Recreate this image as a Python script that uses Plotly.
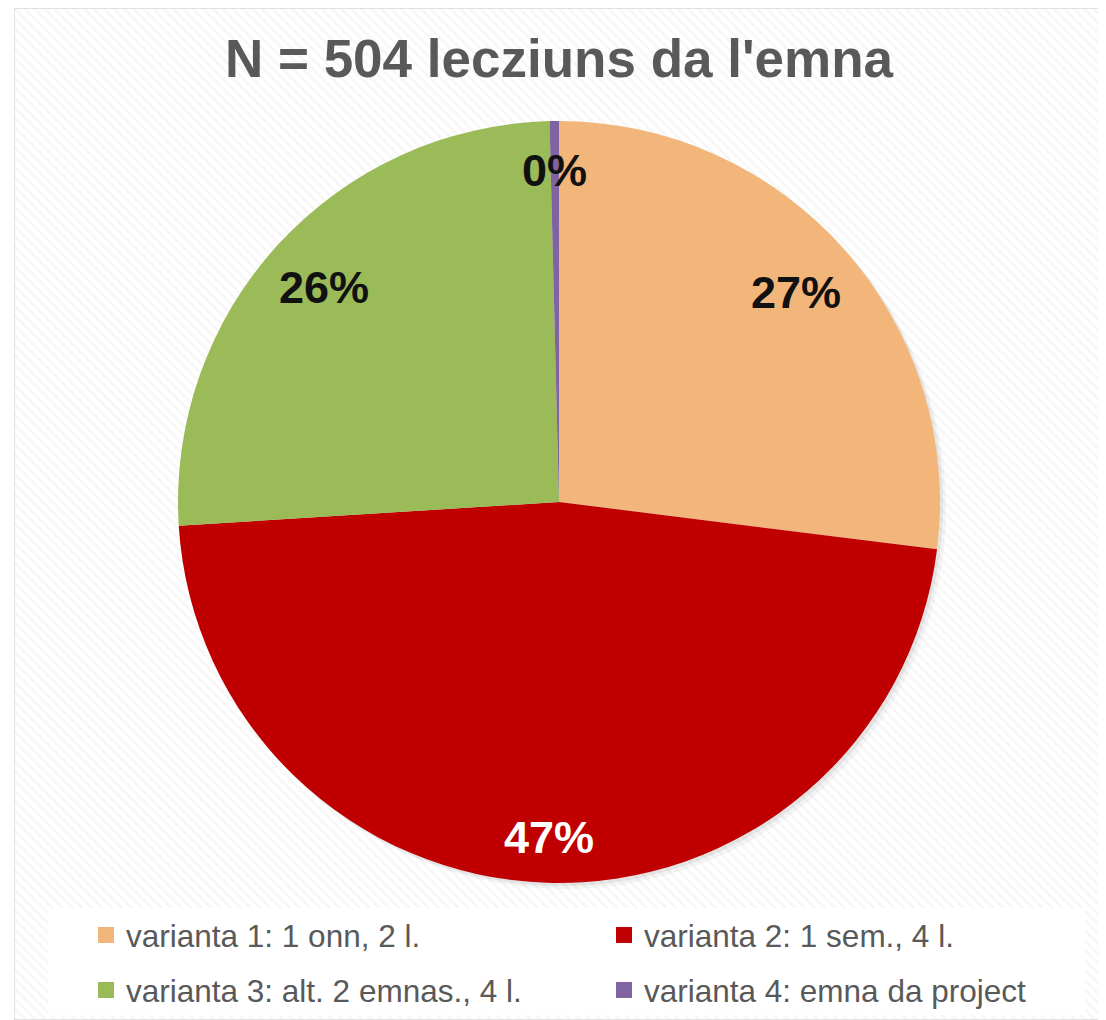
import math

import plotly.graph_objects as go

# Data
labels = [
    "varianta 1: 1 onn, 2 l.",
    "varianta 2: 1 sem., 4 l.",
    "varianta 3: alt. 2 emnas., 4 l.",
    "varianta 4: emna da project",
]
lessons = [136, 237, 129, 2]
colors = ["#F3B67A", "#C00000", "#9BBB59", "#8064A2"]
label_colors = ["#111111", "#FFFFFF", "#111111", "#111111"]
title = "N = 504 lecziuns da l'emna"

# the page body has an 8px margin, so the figure is sized to fit the window
W, H = 1098, 1012
FONT = "Liberation Sans, Arial, sans-serif"

# pie geometry (figure pixels)
cx, cy, r = 551, 494, 381
dom_x = [(cx - r) / W, (cx + r) / W]
dom_y = [1 - (cy + r) / H, 1 - (cy - r) / H]
label_radius = [0.83, 0.88, 0.835, 0.87]  # fraction of r where each % label sits

fig = go.Figure()

# hatched chart background with thin border
fig.add_trace(go.Bar(
    x=[0.5], y=[1], width=[1], base=0,
    marker=dict(color="white", line=dict(color="#D9D9D9", width=1.5),
                pattern=dict(shape="\\", fgcolor="#EDEDED", bgcolor="white",
                             size=7, solidity=0.35)),
    hoverinfo="skip", showlegend=False,
))

# soft shadow behind the pie
for k, a in [(6, 0.04), (3, 0.06)]:
    fig.add_trace(go.Pie(
        values=[1], labels=["shadow"], sort=False,
        marker=dict(colors=[f"rgba(0,0,0,{a})"], line=dict(width=0)),
        textinfo="none", hoverinfo="skip", showlegend=False,
        domain=dict(x=[dom_x[0] + k / W, dom_x[1] + k / W],
                    y=[dom_y[0] - k / H, dom_y[1] - k / H]),
    ))

fig.add_trace(go.Pie(
    labels=labels, values=lessons, sort=False, direction="clockwise",
    marker=dict(colors=colors, line=dict(width=0)),
    textinfo="none", textposition="none", showlegend=False,
    domain=dict(x=dom_x, y=dom_y),
))

# legend entries, one small legend per cell (2 x 2 grid)
leg_x = [78, 596]
leg_y = [927, 982]
legends = {}
for i, (name, c) in enumerate(zip(labels, colors)):
    key = "legend" if i == 0 else f"legend{i + 1}"
    fig.add_trace(go.Scatter(
        x=[None], y=[None], mode="markers", name=name,
        marker=dict(symbol="square", size=16, color=c),
        legend=key,
    ))
    legends[key] = dict(
        x=leg_x[i % 2] / W, y=1 - leg_y[i // 2] / H,
        xanchor="left", yanchor="middle", bgcolor="rgba(0,0,0,0)",
        font=dict(family=FONT, size=31.5, color="#595959"), itemclick=False,
    )

# percentage labels
total = sum(lessons)
annotations = []
cum = 0
for v, tc, f in zip(lessons, label_colors, label_radius):
    mid = (cum + v / 2) / total * 2 * math.pi
    cum += v
    px = cx + f * r * math.sin(mid)
    py = cy - f * r * math.cos(mid)
    annotations.append(dict(
        x=px / W, y=1 - py / H, xref="paper", yref="paper",
        xanchor="center", yanchor="middle",
        text=f"<b>{round(100 * v / total)}%</b>", showarrow=False,
        font=dict(family=FONT, size=45, color=tc),
    ))

fig.update_layout(
    width=W, height=H,
    margin=dict(l=0, r=0, t=0, b=0),
    paper_bgcolor="white", plot_bgcolor="rgba(0,0,0,0)",
    title=dict(text=f"<b>{title}</b>", x=551 / W, xanchor="center",
               y=1 - 50 / H, yanchor="middle",
               font=dict(family=FONT, size=53, color="#595959")),
    xaxis=dict(domain=[6 / W, 1095 / W], range=[0, 1], visible=False, fixedrange=True),
    yaxis=dict(domain=[0, 1], range=[0, 1], visible=False, fixedrange=True),
    annotations=annotations,
    shapes=[dict(type="rect", xref="paper", yref="paper", layer="above",
                 x0=40 / W, x1=1077 / W, y0=1 - 1007 / H, y1=1 - 900 / H,
                 fillcolor="white", line=dict(width=0))],
    showlegend=True,
    **legends,
)

fig.write_html("out.html")
